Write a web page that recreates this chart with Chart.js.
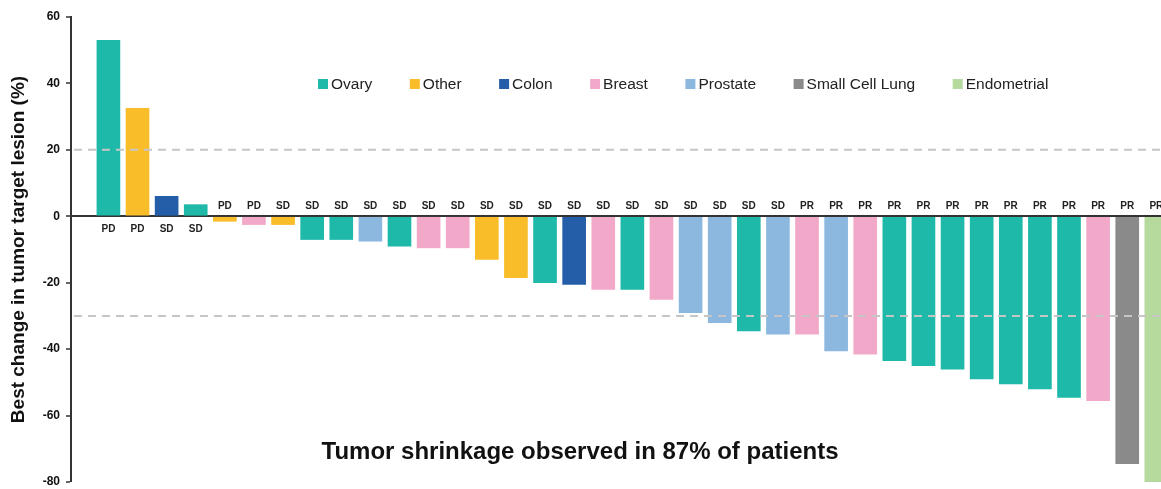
<!DOCTYPE html>
<html>
<head>
<meta charset="utf-8">
<script src="https://cdn.jsdelivr.net/npm/chart.js@4.4.0/dist/chart.umd.min.js"></script>
<style>
  html, body { margin: 0; padding: 0; background: #fff; overflow: hidden; }
  #marco { width: 1161px; height: 489px; overflow: hidden; position: relative; }
  #lienzo { width: 1200px; height: 489px; }
</style>
</head>
<body>
<div id="marco"><div id="lienzo"><canvas id="graficoCascada"></canvas></div></div>
<script>
// ====================
// Datos
// ====================
const categorias = ["Ovary", "Other", "Colon", "Breast", "Prostate", "Small Cell Lung", "Endometrial"];
const coloresCategoria = ["#1fb9a9", "#f8bd28", "#255ea8", "#f2a9c9", "#8cb8e0", "#8a8a8a", "#b6da9e"];

const tipos = [
    "Ovary", "Other", "Colon", "Ovary", "Other", "Breast", "Other", "Ovary", "Ovary", "Prostate",
    "Ovary", "Breast", "Breast", "Other", "Other", "Ovary", "Colon", "Breast", "Ovary", "Breast",
    "Prostate", "Prostate", "Ovary", "Prostate", "Breast", "Prostate", "Breast", "Ovary", "Ovary", "Ovary",
    "Ovary", "Ovary", "Ovary", "Ovary", "Breast", "Small Cell Lung", "Endometrial"
];
const cambios = [
    53, 32.5, 6, 3.5, -1.5, -2.5, -2.5, -7, -7, -7.5,
    -9, -9.5, -9.5, -13, -18.5, -20, -20.5, -22, -22, -25,
    -29, -32, -34.5, -35.5, -35.5, -40.5, -41.5, -43.5, -45, -46,
    -49, -50.5, -52, -54.5, -55.5, -74.5, -80
];
const respuestas = [
    "PD", "PD", "SD", "SD", "PD", "PD", "SD", "SD", "SD", "SD",
    "SD", "SD", "SD", "SD", "SD", "SD", "SD", "SD", "SD", "SD",
    "SD", "SD", "SD", "SD", "PR", "PR", "PR", "PR", "PR", "PR",
    "PR", "PR", "PR", "PR", "PR", "PR", "PR"
];
const lineasReferencia = [20, -30];
const ticksY = [60, 40, 20, 0, -20, -40, -60, -80];
const tituloY = "Best change in tumor target lesion (%)";
const nota = "Tumor shrinkage observed in 87% of patients";

const fuente = "'Liberation Sans', Arial, sans-serif";
const colorDe = t => coloresCategoria[categorias.indexOf(t)];

// ====================
// Anotaciones: líneas, etiquetas, leyenda y nota
// ====================
const anotaciones = {
    id: "anotaciones",
    afterDatasetsDraw(chart) {
        const { ctx, chartArea, scales: { y } } = chart;
        const y0 = y.getPixelForValue(0);
        ctx.save();

        // líneas discontinuas
        ctx.strokeStyle = "#c6c6c6";
        ctx.lineWidth = 2;
        ctx.setLineDash([8, 6]);
        lineasReferencia.forEach(v => {
            const py = y.getPixelForValue(v);
            ctx.beginPath();
            ctx.moveTo(chartArea.left + 3, py);
            ctx.lineTo(chartArea.right, py);
            ctx.stroke();
        });
        ctx.setLineDash([]);

        // etiquetas de respuesta
        ctx.font = "bold 10px " + fuente;
        ctx.fillStyle = "#222";
        ctx.textAlign = "center";
        ctx.textBaseline = "middle";
        chart.getDatasetMeta(0).data.forEach((bar, i) => {
            const py = cambios[i] >= 0 ? y0 + 13 : y0 - 10;
            ctx.fillText(respuestas[i], bar.x, py);
        });

        // leyenda
        ctx.font = "15.5px " + fuente;
        ctx.textAlign = "left";
        let x = 318;
        const yl = 84;
        categorias.forEach((c, i) => {
            ctx.fillStyle = coloresCategoria[i];
            ctx.fillRect(x, yl - 5, 10, 10);
            ctx.fillStyle = "#222";
            ctx.fillText(c, x + 13, yl + 1);
            x += 13 + ctx.measureText(c).width + 37.5;
        });

        // nota
        ctx.font = "bold 24px " + fuente;
        ctx.fillStyle = "#111";
        ctx.textAlign = "center";
        ctx.fillText(nota, 580, y.getPixelForValue(-71));

        ctx.restore();
    }
};

// ====================
// Gráfico de cascada
// ====================
const ctxCascada = document.getElementById("graficoCascada");
new Chart(ctxCascada, {
    type: "bar",
    data: {
        datasets: [{
            label: "Best change",
            data: cambios.map((v, i) => ({ x: i, y: v })),
            backgroundColor: tipos.map(colorDe),
            barThickness: 23,
            borderWidth: 0
        }]
    },
    options: {
        responsive: true,
        maintainAspectRatio: false,
        animation: false,
        layout: { padding: { left: 0, right: 0, top: 17, bottom: 7 } },
        plugins: {
            legend: { display: false },
            tooltip: { enabled: false }
        },
        scales: {
            x: {
                type: "linear",
                display: false,
                offset: false,
                min: -1.285,
                max: 37.5
            },
            y: {
                min: -80,
                max: 60,
                afterFit: s => {
                    s.width = 71;
                    s.paddingTop = 0;
                    s.paddingBottom = 0;
                },
                afterBuildTicks: s => { s.ticks = ticksY.map(v => ({ value: v })); },
                border: { display: true, color: "#333", width: 2 },
                grid: {
                    color: c => c.tick && c.tick.value === 0 ? "#333" : "rgba(0,0,0,0)",
                    lineWidth: c => c.tick && c.tick.value === 0 ? 2 : 0,
                    drawTicks: true,
                    tickLength: 5,
                    tickColor: "#333",
                    tickWidth: 1.5
                },
                ticks: {
                    padding: 6,
                    color: "#111",
                    font: { family: fuente, size: 12, weight: "bold" }
                },
                title: {
                    display: true,
                    text: tituloY,
                    color: "#111",
                    padding: { top: 7, bottom: 0 },
                    font: { family: fuente, size: 19, weight: "bold" }
                }
            }
        }
    },
    plugins: [anotaciones]
});
</script>
</body>
</html>
